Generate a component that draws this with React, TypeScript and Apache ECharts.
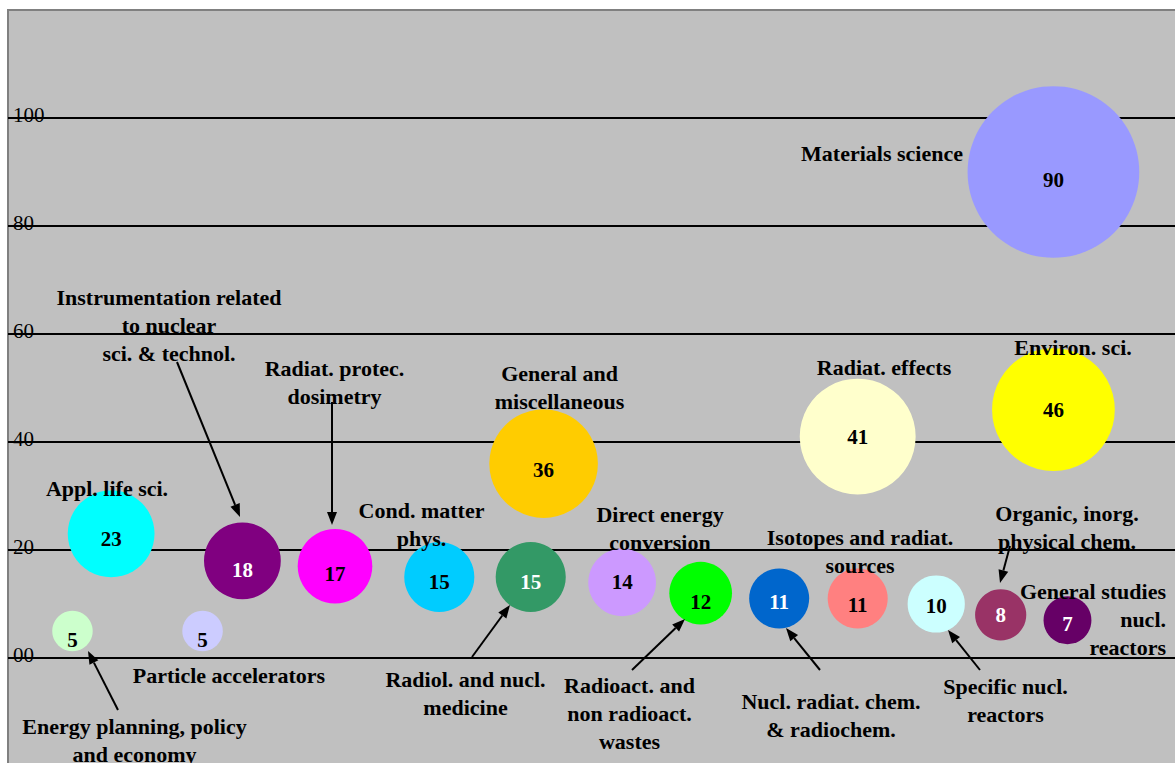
import React, { useEffect, useRef } from "react";
import * as echarts from "echarts";

// ---- data ----
const names = [
  "Energy planning, policy and economy",
  "Particle accelerators",
  "Appl. life sci.",
  "Instrumentation related to nuclear sci. & technol.",
  "Radiat. protec. dosimetry",
  "Cond. matter phys.",
  "Radiol. and nucl. medicine",
  "General and miscellaneous",
  "Direct energy conversion",
  "Radioact. and non radioact. wastes",
  "Nucl. radiat. chem. & radiochem.",
  "Isotopes and radiat. sources",
  "Radiat. effects",
  "Environ. sci.",
  "Materials science",
  "Specific nucl. reactors",
  "Organic, inorg. physical chem.",
  "General studies nucl. reactors",
];
const values = [5, 5, 23, 18, 17, 15, 15, 36, 14, 12, 11, 11, 41, 46, 90, 10, 8, 7];
const xPositions = [5.5, 16.6, 8.8, 20.0, 27.9, 36.8, 44.6, 45.7, 52.4, 59.1, 65.8, 72.5, 72.5, 89.2, 89.2, 79.2, 84.7, 90.4];
const yTicks = [-20, 0, 20, 40, 60, 80, 100, 120];

// ---- styles ----
const colors = [
  "#ccffcc", "#ccccff", "#00ffff", "#800080", "#ff00ff", "#00ccff", "#339966", "#ffcc00", "#cc99ff",
  "#00ff00", "#0066cc", "#ff8080", "#ffffcc", "#ffff00", "#9999ff", "#ccffff", "#993366", "#660066",
];
const darkIdx = [3, 6, 10, 16, 17];
const labelDy = [9, 9, 5, 9, 8, 5, 5, 6, 0, 9, 3, 6, 0, 0, 8, 2, 0, 4];

// annotation layout (pixel positions): lines, x, first-line y, align
const annotations: { lines: string[]; x: number; y: number; align?: string }[] = [
  { lines: ["Energy planning, policy", "and economy"], x: 134.5, y: 726 },
  { lines: ["Particle accelerators"], x: 229, y: 675 },
  { lines: ["Appl. life sci."], x: 107, y: 488 },
  { lines: ["Instrumentation related", "to nuclear", "sci. & technol."], x: 169, y: 297 },
  { lines: ["Radiat. protec.", "dosimetry"], x: 334.5, y: 368 },
  { lines: ["Cond. matter", "phys."], x: 421.5, y: 510 },
  { lines: ["Radiol. and nucl.", "medicine"], x: 465.5, y: 679 },
  { lines: ["General and", "miscellaneous"], x: 559.5, y: 373 },
  { lines: ["Direct energy", "conversion"], x: 660, y: 514 },
  { lines: ["Radioact. and", "non radioact.", "wastes"], x: 629.5, y: 685 },
  { lines: ["Nucl. radiat. chem.", "& radiochem."], x: 831, y: 701 },
  { lines: ["Isotopes and radiat.", "sources"], x: 860, y: 537 },
  { lines: ["Radiat. effects"], x: 884, y: 367 },
  { lines: ["Environ. sci."], x: 1073, y: 347 },
  { lines: ["Materials science"], x: 882, y: 153 },
  { lines: ["Specific nucl.", "reactors"], x: 1005.5, y: 686 },
  { lines: ["Organic, inorg.", "physical chem."], x: 1067, y: 513 },
  { lines: ["General studies", "nucl.", "reactors"], x: 1166, y: 591, align: "right" },
];

const arrows: number[][] = [
  [118, 710, 88, 651],
  [177, 362, 240, 517],
  [332, 402, 332, 525],
  [472, 657, 510, 605],
  [632, 670, 685, 619],
  [820, 670, 786, 628],
  [980, 670, 948, 630],
  [1010, 546, 1000, 583],
];

const SERIF = '"Liberation Serif", "Times New Roman", Times, serif';
const LINE_H = 28;

function arrowElements(a: number[]) {
  const [x1, y1, x2, y2] = a;
  const dx = x2 - x1;
  const dy = y2 - y1;
  const len = Math.sqrt(dx * dx + dy * dy);
  const ux = dx / len;
  const uy = dy / len;
  const hl = 13;
  const hw = 5;
  const bx = x2 - ux * hl;
  const by = y2 - uy * hl;
  return [
    {
      type: "line",
      shape: { x1, y1, x2: bx, y2: by },
      style: { stroke: "#000", lineWidth: 2 },
      z: 100,
    },
    {
      type: "polygon",
      shape: {
        points: [
          [x2, y2],
          [bx - uy * hw, by + ux * hw],
          [bx + uy * hw, by - ux * hw],
        ],
      },
      style: { fill: "#000" },
      z: 100,
    },
  ];
}

export default function App() {
  const ref = useRef<HTMLDivElement>(null);
  useEffect(() => {
    if (!ref.current) return;
    const chart = echarts.init(ref.current, null, { renderer: "svg" });

    const data = values.map((v, i) => ({
      name: names[i],
      value: [xPositions[i], v],
      itemStyle: { color: colors[i], opacity: 1 },
      label: {
        color: darkIdx.includes(i) ? "#ffffff" : "#000000",
        offset: [0, labelDy[i]],
      },
    }));

    const graphics: any[] = [];
    annotations.forEach((a) => {
      const align = a.align || "center";
      graphics.push({
        type: "text",
        x: a.x,
        y: a.y - LINE_H / 2,
        z: 100,
        style: {
          text: a.lines.join("\n"),
          fontFamily: SERIF,
          fontSize: 22,
          fontWeight: "bold",
          fill: "#000",
          lineHeight: LINE_H,
          align,
          textAlign: align,
          verticalAlign: "top",
          textVerticalAlign: "top",
        },
      });
    });
    arrows.forEach((a) => graphics.push(...arrowElements(a)));

    chart.setOption({
      animation: false,
      backgroundColor: "#ffffff",
      grid: {
        left: 8,
        top: 10,
        right: 0,
        height: 756,
        show: true,
        backgroundColor: "#c0c0c0",
        borderColor: "#808080",
        borderWidth: 2,
      },
      xAxis: {
        type: "value",
        min: 0,
        max: 100,
        show: false,
      },
      yAxis: {
        type: "value",
        min: yTicks[0],
        max: yTicks[yTicks.length - 1],
        interval: 20,
        axisLine: { show: false },
        axisTick: { show: false },
        splitLine: {
          show: true,
          showMinLine: false,
          showMaxLine: false,
          lineStyle: { color: "#000000", width: 2 },
        },
        axisLabel: {
          inside: true,
          margin: 5,
          align: "left",
          verticalAlign: "bottom",
          padding: [0, 0, -7, 0],
          fontFamily: SERIF,
          fontSize: 21,
          color: "#000000",
          formatter: (v: number) => (v === 0 ? "00" : v < 0 || v > 100 ? "" : String(v)),
        },
      },
      series: [
        {
          type: "scatter",
          data,
          symbol: "circle",
          symbolSize: (val: number[]) => 18.1 * Math.sqrt(val[1]),
          itemStyle: { opacity: 1 },
          label: {
            show: true,
            position: "inside",
            formatter: (p: any) => String(p.value[1]),
            fontFamily: SERIF,
            fontSize: 21,
            fontWeight: "bold",
            textBorderWidth: 0,
            textBorderColor: "transparent",
          },
          emphasis: { disabled: true },
          z: 3,
        },
      ],
      graphic: graphics,
    });

    return () => chart.dispose();
  }, []);

  return (
    <div
      ref={ref}
      style={{ position: "fixed", left: 0, top: 0, width: 1180, height: 770 }}
    />
  );
}
